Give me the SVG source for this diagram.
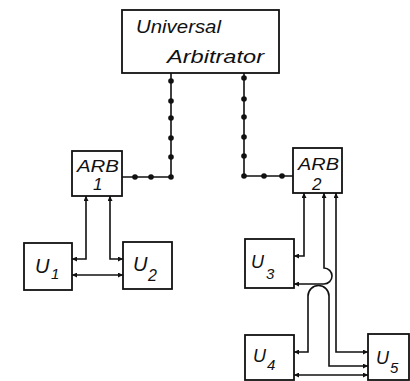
<svg xmlns="http://www.w3.org/2000/svg" width="410" height="381" viewBox="0 0 410 381">
<style>
.box{fill:#fff;stroke:#111;stroke-width:1.8}
.ln{fill:none;stroke:#111;stroke-width:1.6}
.ar{fill:none;stroke:#111;stroke-width:1.6;marker-start:url(#ah);marker-end:url(#ah)}
.t{font-family:"Liberation Sans",Arial,sans-serif;font-style:italic;fill:#111}
.dot{fill:#111}
</style>
<defs>
<marker id="ah" viewBox="0 0 10 10" refX="10" refY="5" markerWidth="6" markerHeight="5" markerUnits="userSpaceOnUse" orient="auto-start-reverse">
<path d="M0,0 L10,5 L0,10 z" fill="#111"/>
</marker>
</defs>
<rect width="410" height="381" fill="#fff"/>
<g id="universal">
<rect class="box" x="122" y="10" width="157" height="63"/>
<text class="t" x="136" y="33" font-size="18" textLength="85" lengthAdjust="spacingAndGlyphs">Universal</text>
<text class="t" x="167" y="63" font-size="18" textLength="97" lengthAdjust="spacingAndGlyphs">Arbitrator</text>
</g>
<g id="arb1">
<rect class="box" x="72" y="151" width="50" height="45"/>
<text class="t" x="77" y="172" font-size="17" textLength="42" lengthAdjust="spacingAndGlyphs">ARB</text>
<text class="t" x="93" y="190" font-size="17">1</text>
</g>
<g id="arb2">
<rect class="box" x="293" y="148" width="49" height="45"/>
<text class="t" x="298" y="170" font-size="17" textLength="41" lengthAdjust="spacingAndGlyphs">ARB</text>
<text class="t" x="312" y="190" font-size="17">2</text>
</g>
<g id="u1">
<rect class="box" x="24" y="243" width="48" height="47"/>
<text class="t" x="35" y="273" font-size="20">U</text>
<text class="t" x="51" y="279" font-size="15">1</text>
</g>
<g id="u2">
<rect class="box" x="123" y="242" width="49" height="47"/>
<text class="t" x="133" y="271" font-size="20">U</text>
<text class="t" x="148" y="281" font-size="16">2</text>
</g>
<g id="u3">
<rect class="box" x="245" y="239" width="49" height="49"/>
<text class="t" x="251" y="268" font-size="18">U</text>
<text class="t" x="266" y="279" font-size="15">3</text>
</g>
<g id="u4">
<rect class="box" x="245" y="335" width="49" height="45"/>
<text class="t" x="253" y="362" font-size="18">U</text>
<text class="t" x="267" y="370" font-size="15">4</text>
</g>
<g id="u5">
<rect class="box" x="368" y="334" width="41" height="46"/>
<text class="t" x="376" y="364" font-size="18">U</text>
<text class="t" x="390" y="373" font-size="15">5</text>
</g>
<g id="connectors">
<path class="ln" d="M171,73 V177 H122"/>
<path class="ln" d="M244,73 V176 H293"/>
<g class="dot">
<circle cx="171" cy="81" r="2.8"/><circle cx="171" cy="101" r="2.8"/><circle cx="171" cy="118" r="2.8"/><circle cx="171" cy="138" r="2.8"/><circle cx="171" cy="157" r="2.8"/><circle cx="171" cy="177" r="2.8"/><circle cx="151" cy="177" r="2.8"/><circle cx="135" cy="177" r="2.8"/>
<circle cx="244" cy="78" r="2.8"/><circle cx="244" cy="99" r="2.8"/><circle cx="244" cy="117" r="2.8"/><circle cx="244" cy="137" r="2.8"/><circle cx="244" cy="156" r="2.8"/><circle cx="244" cy="176" r="2.8"/><circle cx="264" cy="176" r="2.8"/><circle cx="282" cy="176" r="2.8"/>
</g>
<path class="ar" d="M72,259 H86 V196"/>
<path class="ar" d="M110,196 V259 H123"/>
<path class="ar" d="M72,275 H123"/>
<path class="ar" d="M304,193 V256 H294"/>
<path class="ar" d="M324,193 V268 A8,8 0 0 1 324,284 H294"/>
<path class="ar" d="M294,352 H308 V296 A10.5,10.5 0 0 1 329,296 V366 H368"/>
<path class="ar" d="M336,193 V352 H368"/>
<path class="ar" d="M294,375 H368"/>
</g>
</svg>
